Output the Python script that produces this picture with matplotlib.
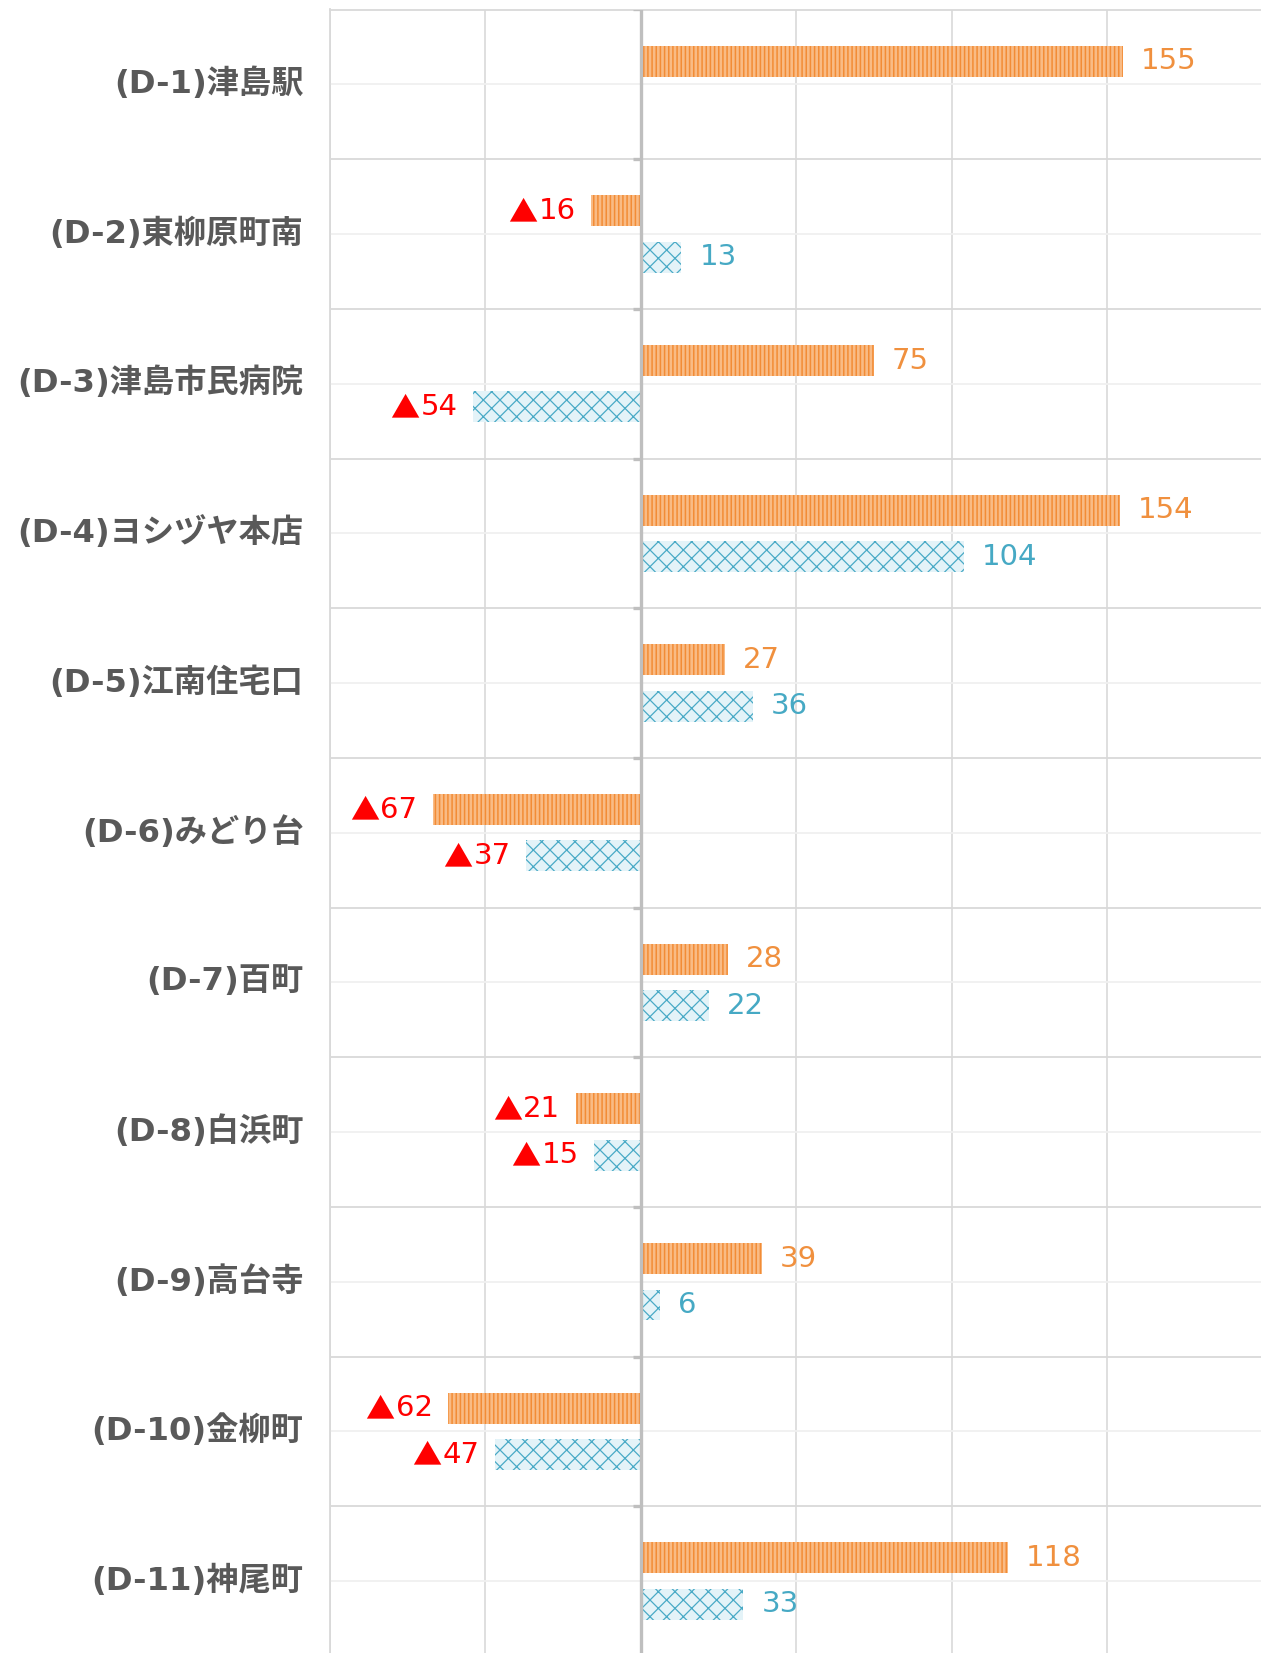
import numpy as np
import matplotlib
matplotlib.use("Agg")
import matplotlib.pyplot as plt
from matplotlib.transforms import ScaledTranslation

categories = ["(D-1)津島駅", "(D-2)東柳原町南", "(D-3)津島市民病院", "(D-4)ヨシヅヤ本店",
              "(D-5)江南住宅口", "(D-6)みどり台", "(D-7)百町", "(D-8)白浜町",
              "(D-9)高台寺", "(D-10)金柳町", "(D-11)神尾町"]
series_orange = [155, -16, 75, 154, 27, -67, 28, -21, 39, -62, 118]
series_blue = [None, 13, -54, 104, 36, -37, 22, -15, 6, -47, 33]
x_ticks = [-100, -50, 0, 50, 100, 150]

FONT = ["DejaVu Sans", "Noto Sans CJK JP"]
plt.rcParams["font.family"] = FONT

ORANGE_FACE = "#f9bb85"
ORANGE_LINE = "#f28c36"
ORANGE_TXT = "#f0903e"
BLUE_FACE = "#e4f3f8"
BLUE_LINE = "#4aaac6"
BLUE_TXT = "#46a9c4"
NEG_TXT = "#ff0000"

fig = plt.figure(figsize=(12.61, 16.53), dpi=100)
ax = fig.add_axes([330 / 1261, 0.0, 1 - 330 / 1261, 1 - 9.5 / 1653])

n = len(categories)
idx = np.arange(n)
off = 0.155
h = 0.207

o_vals = np.array([np.nan if v is None else v for v in series_orange], dtype=float)
b_vals = np.array([np.nan if v is None else v for v in series_blue], dtype=float)

plt.rcParams["hatch.linewidth"] = 1.1
ax.barh(idx - off, o_vals, height=h, color=ORANGE_FACE, edgecolor=ORANGE_LINE,
        hatch="||||", linewidth=0, zorder=3)
plt.rcParams["hatch.linewidth"] = 0.9
ax.barh(idx + off, b_vals, height=h, color=BLUE_FACE, edgecolor=BLUE_LINE,
        hatch="xx", linewidth=0, zorder=3)

ax.set_xlim(-100, 199.5)
ax.set_ylim(10.5 - 3 / 149.7, -0.5)

# grid
for xv in x_ticks:
    if xv == 0:
        continue
    ax.axvline(xv, color="#dcdcdc", lw=1.3, zorder=1)
for i in range(n):
    ax.axhline(i, color="#f0f0f0", lw=1.3, zorder=1)
    ax.axhline(i + 0.5, color="#d9d9d9", lw=1.3, zorder=1)
ax.axvline(0, color="#bfbfbf", lw=2.4, zorder=4)
# small ticks on the zero axis
for i in range(-1, n):
    ax.plot([-2.6, 0], [i + 0.5, i + 0.5], color="#bfbfbf", lw=2.4, zorder=4,
            solid_capstyle="butt")

for s in ["right", "bottom"]:
    ax.spines[s].set_visible(False)
for s in ["top", "left"]:
    ax.spines[s].set_color("#d9d9d9")
    ax.spines[s].set_linewidth(1.3)

ax.set_xticks([])
ax.set_yticks(idx)
ax.set_yticklabels(categories, fontsize=23.2, color="#595959", fontweight="bold")
ax.tick_params(axis="y", length=0, pad=19)
shift = ScaledTranslation(0, 4 / 100, fig.dpi_scale_trans)
for t in ax.get_yticklabels():
    t.set_verticalalignment("center_baseline")
    t.set_transform(t.get_transform() + shift)

def label(vals, ypos, pos_color):
    for y, v in zip(ypos, vals):
        if np.isnan(v):
            continue
        if v >= 0:
            ax.annotate(f"{int(v)}", xy=(v, y), xytext=(13, 0), textcoords="offset points",
                        ha="left", va="center", fontsize=21, color=pos_color, zorder=5)
        else:
            num = ax.annotate(f"{int(abs(v))}", xy=(v, y), xytext=(-11, 0),
                              textcoords="offset points", ha="right", va="center",
                              fontsize=21, color=NEG_TXT, zorder=5)
            ax.annotate("▲", xy=(0, 0.5), xycoords=num, xytext=(-1, -1.5),
                        textcoords="offset points", ha="right", va="center",
                        fontsize=21, color=NEG_TXT, zorder=5,
                        family=["Noto Sans CJK JP", "DejaVu Sans"])

label(o_vals, idx - off, ORANGE_TXT)
label(b_vals, idx + off, BLUE_TXT)

fig.savefig("out.png", dpi=100)
